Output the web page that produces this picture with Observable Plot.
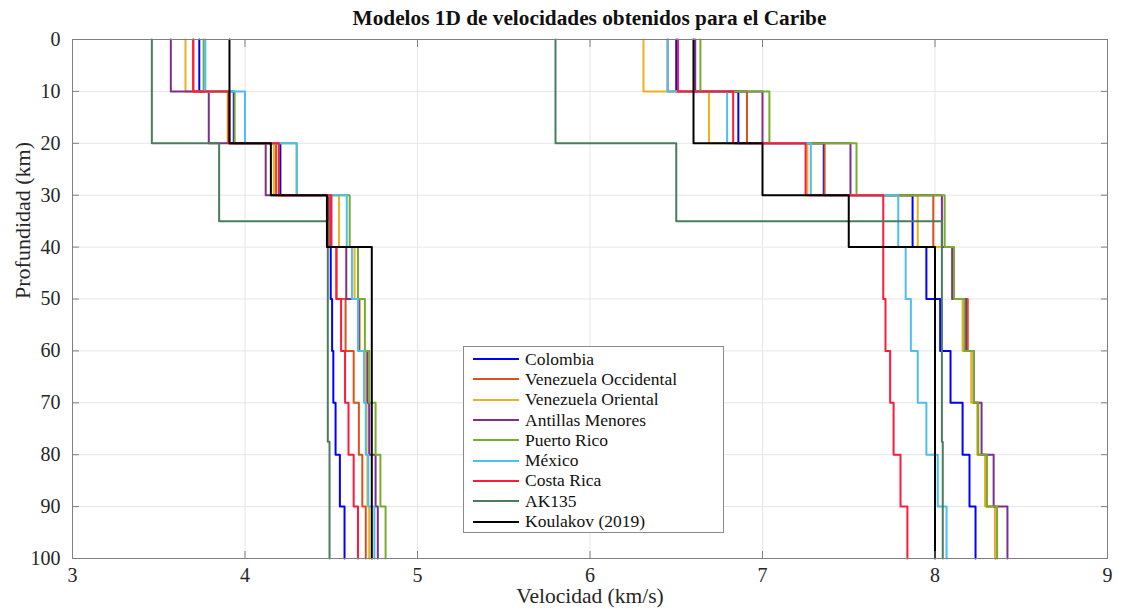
<!DOCTYPE html>
<html><head><meta charset="utf-8">
<script src="https://cdn.jsdelivr.net/npm/d3@7"></script>
<script src="https://cdn.jsdelivr.net/npm/@observablehq/plot@0.6"></script>
<style>
body{margin:0;background:#fff;font-family:"Liberation Serif","Times New Roman",serif;color:#111;}
#wrap{position:relative;width:1122px;height:613px;overflow:hidden;}
#title{position:relative;z-index:2;height:20px;line-height:30px;padding-top:3px;box-sizing:border-box;width:1122px;text-align:center;font-weight:bold;font-size:21.3px;overflow:visible;white-space:nowrap;}
#title span{display:inline-block;margin-left:57px;}
#legend{position:absolute;left:463px;top:346px;width:261px;height:187px;border:1px solid #8a8a8a;background:#fff;box-sizing:border-box;padding-top:2px;}
.row{height:20.3px;display:flex;align-items:center;font-size:17.5px;white-space:nowrap;}
.sw{display:inline-block;width:46px;height:2px;margin-left:9px;margin-right:6px;}
svg{display:block;}
</style></head>
<body>
<div id="wrap">
<div id="title"><span>Modelos 1D de velocidades obtenidos para el Caribe</span></div>
<div id="chart"></div>
<div id="legend"></div>
</div>
<script>
const depths = [0, 10, 20, 30, 40, 50, 60, 70, 80, 90, 100];

const colombiaVp = [6.50, 6.86, 7.355, 7.87, 7.95, 8.03, 8.09, 8.16, 8.20, 8.235];
const colombiaVs = [3.735, 3.935, 4.205, 4.487, 4.497, 4.505, 4.512, 4.525, 4.55, 4.577];

const venOccVp = [6.45, 6.91, 7.36, 7.99, 8.10, 8.19, 8.225, 8.25, 8.30, 8.35];
const venOccVs = [3.70, 3.91, 4.18, 4.49, 4.53, 4.583, 4.63, 4.66, 4.68, 4.70];

const venOrVp = [6.31, 6.69, 7.26, 7.90, 8.10, 8.16, 8.21, 8.245, 8.29, 8.35];
const venOrVs = [3.655, 3.90, 4.167, 4.545, 4.635, 4.666, 4.70, 4.705, 4.71, 4.72];

const antillasVp = [6.61, 7.00, 7.51, 8.04, 8.10, 8.18, 8.225, 8.27, 8.34, 8.42];
const antillasVs = [3.57, 3.79, 4.12, 4.50, 4.587, 4.66, 4.71, 4.72, 4.757, 4.77];

const puertoRicoVp = [6.64, 7.04, 7.545, 8.056, 8.11, 8.17, 8.225, 8.25, 8.30, 8.36];
const puertoRicoVs = [3.76, 3.94, 4.30, 4.607, 4.655, 4.695, 4.72, 4.757, 4.785, 4.815];

const mexicoVp = [6.45, 6.795, 7.28, 7.787, 7.83, 7.86, 7.90, 7.95, 8.016, 8.067];
const mexicoVs = [3.77, 4.00, 4.30, 4.59, 4.62, 4.655, 4.69, 4.70, 4.715, 4.75];

const costaRicaVp = [6.51, 6.83, 7.25, 7.70, 7.70, 7.713, 7.74, 7.76, 7.80, 7.84];
const costaRicaVs = [3.70, 3.905, 4.196, 4.50, 4.53, 4.557, 4.58, 4.60, 4.63, 4.655];

const ak135Depths = [0, 20, 35, 77.5, 100];
const ak135Vp = [5.80, 6.50, 8.04, 8.045];
const ak135Vs = [3.46, 3.85, 4.48, 4.49];

const koulakovDepths = [0, 20, 30, 40, 100];
const koulakovVp = [6.60, 7.00, 7.50, 8.00];
const koulakovVs = [3.91, 4.15, 4.475, 4.735];

const modelNames = ["Colombia", "Venezuela Occidental", "Venezuela Oriental", "Antillas Menores", "Puerto Rico", "México", "Costa Rica", "AK135", "Koulakov (2019)"];
const modelColors = ["#0000ff", "#d95319", "#edb120", "#7e2f8e", "#77ac30", "#4dbeee", "#ff1a3c", "#4a7c5e", "#000000"];

const xTicks = [3, 4, 5, 6, 7, 8, 9];
const yTicks = [0, 10, 20, 30, 40, 50, 60, 70, 80, 90, 100];

const models = [
  {name: modelNames[0], d: depths, vp: colombiaVp, vs: colombiaVs},
  {name: modelNames[1], d: depths, vp: venOccVp, vs: venOccVs},
  {name: modelNames[2], d: depths, vp: venOrVp, vs: venOrVs},
  {name: modelNames[3], d: depths, vp: antillasVp, vs: antillasVs},
  {name: modelNames[4], d: depths, vp: puertoRicoVp, vs: puertoRicoVs},
  {name: modelNames[5], d: depths, vp: mexicoVp, vs: mexicoVs},
  {name: modelNames[6], d: depths, vp: costaRicaVp, vs: costaRicaVs},
  {name: modelNames[7], d: ak135Depths, vp: ak135Vp, vs: ak135Vs},
  {name: modelNames[8], d: koulakovDepths, vp: koulakovVp, vs: koulakovVs}
];

const rows = [];
for (const m of models) {
  for (const wave of ["vp", "vs"]) {
    const vals = m[wave];
    vals.forEach((v, i) => {
      rows.push({model: m.name, key: m.name + wave, v, d: m.d[i]});
      rows.push({model: m.name, key: m.name + wave, v, d: m.d[i + 1]});
    });
  }
}

const chart = Plot.plot({
  width: 1122, height: 593,
  marginLeft: 72, marginRight: 15, marginTop: 19, marginBottom: 55,
  style: {fontFamily: "'Liberation Serif','Times New Roman',serif", fontSize: "20px", background: "transparent", color: "#262626"},
  x: {domain: [3, 9], ticks: xTicks, label: null, tickFormat: d3.format("d")},
  y: {domain: [0, 100], reverse: true, ticks: yTicks, label: null, tickFormat: d3.format("d")},
  color: {domain: modelNames, range: modelColors},
  marks: [
    Plot.gridX(xTicks, {stroke: "#e6e6e6", strokeOpacity: 1}),
    Plot.gridY(yTicks, {stroke: "#e6e6e6", strokeOpacity: 1}),
    Plot.line(rows, {x: "v", y: "d", z: "key", stroke: "model", strokeWidth: 2}),
    Plot.frame({stroke: "#808080"}),
    Plot.axisX(xTicks, {anchor: "bottom", tickSize: 0, tickPadding: 9, fill: "#262626", tickFormat: d3.format("d")}),
    Plot.axisX(xTicks, {anchor: "bottom", tickSize: -7, tickFormat: () => "", stroke: "#808080"}),
    Plot.axisX(xTicks, {anchor: "top", tickSize: -7, tickFormat: () => "", stroke: "#808080"}),
    Plot.axisY(yTicks, {anchor: "left", tickSize: 0, tickPadding: 12, fill: "#262626", tickFormat: d3.format("d")}),
    Plot.axisY(yTicks, {anchor: "left", tickSize: -7, tickFormat: () => "", stroke: "#808080"}),
    Plot.axisY(yTicks, {anchor: "right", tickSize: -7, tickFormat: () => "", stroke: "#808080"}),
    Plot.text(["Velocidad (km/s)"], {frameAnchor: "bottom", dy: 44, fontSize: 21.5, fill: "#262626"}),
    Plot.text(["Profundidad (km)"], {frameAnchor: "left", dx: -50, rotate: -90, fontSize: 22, fill: "#262626"})
  ]
});
document.getElementById("chart").appendChild(chart);

const legend = document.getElementById("legend");
modelNames.forEach((n, i) => {
  const r = document.createElement("div");
  r.className = "row";
  const s = document.createElement("span");
  s.className = "sw";
  s.style.backgroundColor = modelColors[i];
  r.appendChild(s);
  r.appendChild(document.createTextNode(n));
  legend.appendChild(r);
});
</script>
</body></html>
